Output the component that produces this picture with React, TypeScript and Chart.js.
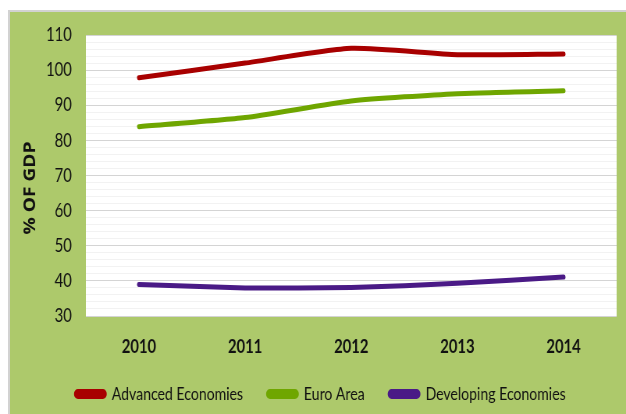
import React, { useEffect, useRef } from "react";
import { Chart, registerables } from "chart.js";

Chart.register(...registerables);

const years = ["2010", "2011", "2012", "2013", "2014"];
const advanced = [97.8, 102.0, 106.2, 104.4, 104.6];
const euroArea = [83.9, 86.5, 91.2, 93.3, 94.1];
const developing = [39.0, 38.0, 38.1, 39.3, 41.1];
const yTitle = "% OF GDP";

const FONT = "Lato, 'Open Sans', sans-serif";
const CW = 802; // internal canvas width, squeezed horizontally to 626 px
const SX = 626 / CW;

const bgPlugin = {
  id: "bgPlugin",
  beforeDraw(chart: any) {
    const { ctx, chartArea } = chart;
    ctx.save();
    ctx.fillStyle = "#ffffff";
    ctx.fillRect(chartArea.left, chartArea.top, chartArea.right - chartArea.left, chartArea.bottom - chartArea.top);
    ctx.restore();
  },
  afterDraw(chart: any) {
    const { ctx } = chart;
    ctx.save();
    ctx.font = "bold 22px 'Open Sans', sans-serif";
    const w = ctx.measureText(yTitle).width;
    const targetLen = 93;
    ctx.translate(30 / SX, 188);
    ctx.rotate(-Math.PI / 2);
    ctx.scale(targetLen / w, 1);
    ctx.fillStyle = "#111111";
    ctx.textAlign = "center";
    ctx.textBaseline = "middle";
    ctx.fillText(yTitle, 0, 0);
    ctx.restore();
  },
};

export default function App() {
  const ref = useRef<HTMLCanvasElement>(null);
  useEffect(() => {
    if (!ref.current) return;
    const mk = (label: string, data: number[], color: string) => ({
      label,
      data,
      borderColor: color,
      backgroundColor: color,
      borderWidth: 5,
      pointRadius: 0,
      tension: 0.2,
      borderCapStyle: "round" as const,
      borderJoinStyle: "round" as const,
    });
    const chart = new Chart(ref.current, {
      type: "line",
      data: {
        labels: years,
        datasets: [
          mk("Advanced Economies", advanced, "#a80000"),
          mk("Euro Area", euroArea, "#6fa600"),
          mk("Developing Economies", developing, "#4a1a86"),
        ],
      },
      options: {
        animation: false,
        responsive: false,
        devicePixelRatio: 1,
        layout: { padding: { left: 32, top: 35, right: 12, bottom: 1 } },
        plugins: {
          tooltip: { enabled: false },
          legend: {
            position: "bottom",
            labels: {
              boxWidth: 37,
              boxHeight: 5,
              useBorderRadius: true,
              borderRadius: 2.5,
              padding: 32,
              color: "#111111",
              font: { family: FONT, size: 18 },
            },
          },
        },
        scales: {
          x: {
            offset: true,
            grid: { display: false, drawTicks: false },
            border: { display: false },
            ticks: { padding: 19, color: "#111111", font: { family: FONT, size: 19, weight: "bold" } },
            afterFit(scale: any) {
              scale.height = 37;
            },
          },
          y: {
            min: 30,
            max: 110,
            border: { display: false },
            grid: {
              drawTicks: false,
              color: (c: any) => (c.tick && c.tick.value % 10 === 0 ? "#d4d4d4" : "#f2f2f2"),
              lineWidth: 1,
            },
            ticks: {
              stepSize: 2,
              autoSkip: false,
              padding: 18,
              color: "#111111",
              font: { family: FONT, size: 19 },
              callback: (v: any) => (Number(v) % 10 === 0 ? String(v) : ""),
            },
            afterFit(scale: any) {
              scale.width = 78;
            },
          },
        },
      },
      plugins: [bgPlugin],
    } as any);
    return () => chart.destroy();
  }, []);

  return (
    <div style={{ position: "fixed", left: 0, top: 0, width: 626, height: 414, background: "#ffffff", overflow: "hidden" }}>
      <div
        style={{
          position: "absolute",
          left: 8,
          top: 10,
          right: 0,
          bottom: 0,
          background: "#adc96b",
          borderTop: "2px solid #d2d2d2",
          borderLeft: "2px solid #d2d2d2",
        }}
      />
      <div
        style={{
          position: "absolute",
          left: 0,
          top: 0,
          width: CW,
          height: 414,
          transform: `scaleX(${SX})`,
          transformOrigin: "0 0",
        }}
      >
        <canvas ref={ref} width={CW} height={414} style={{ display: "block", width: CW, height: 414 }} />
      </div>
    </div>
  );
}
